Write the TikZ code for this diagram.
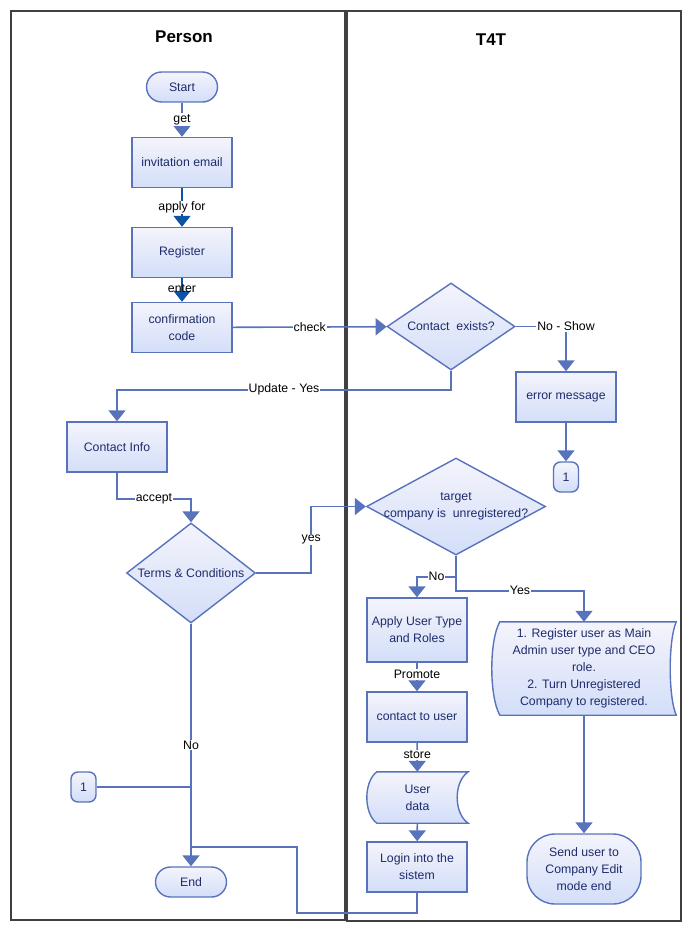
\documentclass[tikz,border=0pt]{standalone}
\usepackage{fontspec}
\setmainfont{Liberation Sans}
\usetikzlibrary{shapes.geometric,arrows.meta,calc,backgrounds}
\definecolor{lineblue}{HTML}{5873BC}
\definecolor{darkarrow}{HTML}{0B53A4}
\definecolor{topc}{HTML}{F4F4FB}
\definecolor{botc}{HTML}{D3DEF9}
\definecolor{txt}{HTML}{1E2C6C}
\definecolor{lanegray}{HTML}{404040}
\begin{document}
\begin{tikzpicture}[x=1pt,y=-1pt,
  box/.style={draw=lineblue, line width=1.4pt, top color=topc, bottom color=botc,
    minimum width=100pt, minimum height=50pt, inner sep=2pt, text=txt,
    font=\fontsize{12.3}{17}\selectfont, align=center},
  term/.style={box, rounded corners=15pt, minimum width=71pt, minimum height=30pt},
  conn/.style={box, rounded corners=7pt, minimum width=25pt, minimum height=30pt, inner sep=0pt},
  dia/.style={diamond, draw=lineblue, line width=1.4pt, top color=topc, bottom color=botc, inner sep=0pt},
  dtext/.style={text=txt, font=\fontsize{12.3}{17}\selectfont, align=center, inner sep=0pt},
  sdata/.style={draw=lineblue, line width=1.4pt, top color=topc, bottom color=botc},
  plain/.style={text=txt, font=\fontsize{12.3}{17}\selectfont, align=center, inner sep=0pt},
  flow/.style={draw=lineblue, line width=1.6pt, -{Triangle[width=17pt,length=11pt]}},
  flowdark/.style={draw=darkarrow, line width=1.6pt, -{Triangle[width=17pt,length=11pt]}},
  conline/.style={draw=lineblue, line width=1.6pt},
  lbl/.style={fill=white, inner sep=1pt, font=\fontsize{12.3}{14}\selectfont, text=black},
  lblclear/.style={inner sep=1pt, font=\fontsize{12.3}{14}\selectfont, text=black},
  lanebox/.style={draw=lanegray, line width=2pt},
  title/.style={font=\bfseries\fontsize{17}{20}\selectfont, text=black},
]
\useasboundingbox (0,0) rectangle (692,933);

% lanes
\draw[lanebox] (11,11) rectangle (345,920);
\draw[lanebox] (347,11) rectangle (681,921);
\node[title] (tperson) at (184,37) {Person};
\node[title] (tt4t) at (491,40) {T4T};

% left lane nodes
\node[term] (start) at (182,87) {Start};
\node[box] (inv) at (182,162.5) {invitation email};
\node[box] (reg) at (182,252.5) {Register};
\node[box] (conf) at (182,327.5) {confirmation\\code};
\node[box] (ci) at (117,447) {Contact Info};
\node[dia, minimum width=129pt, minimum height=100pt] (tc) at (191,573) {};
\node[dtext] (tctext) at (tc) {Terms \& Conditions};
\node[conn] (c1l) at (83.5,787) {1};
\node[term] (end) at (191,882) {End};

% right lane nodes
\node[dia, minimum width=128pt, minimum height=87pt] (ce) at (451,326.5) {};
\node[dtext] (cetext) at (ce) {Contact\ \ exists?};
\node[box] (err) at (566,397) {error message};
\node[conn] (c1r) at (566,477) {1};
\node[dia, minimum width=179pt, minimum height=97pt] (tu) at (456,506.5) {};
\node[dtext] (tutext) at (tu) {target\\company is\ \ unregistered?};
\node[box, minimum height=64pt] (aut) at (417,630) {Apply User Type\\and Roles};
\node[box] (ctu) at (417,717) {contact to user};
\node[plain, minimum width=101pt, minimum height=51pt] (ud) at (417.5,797.5) {User\\data};
\node[box] (login) at (417,867) {Login into the\\sistem};
\node[plain, minimum width=184pt, minimum height=93pt] (rg) at (584,668.5)
  {1. Register user as Main\\Admin user type and CEO\\role.\\2. Turn Unregistered\\Company to registered.};
\node[term, minimum width=114pt, minimum height=70pt, rounded corners=28pt] (send) at (584,869)
  {Send user to\\Company Edit\\mode end};

\begin{scope}[on background layer]
\path[sdata] ($(ud.north west)+(10,0)$)
  .. controls ($(ud.north west)+(-3.3,10)$) and ($(ud.south west)+(-3.3,-10)$) .. ($(ud.south west)+(10,0)$)
  -- (ud.south east)
  .. controls ($(ud.south east)+(-14.7,-10)$) and ($(ud.north east)+(-14.7,10)$) .. (ud.north east)
  -- cycle;
\path[sdata] ($(rg.north west)+(8,0)$)
  .. controls ($(rg.north west)+(-2.7,19)$) and ($(rg.south west)+(-2.7,-19)$) .. ($(rg.south west)+(8,0)$)
  -- (rg.south east)
  .. controls ($(rg.south east)+(-8,-19)$) and ($(rg.north east)+(-8,19)$) .. (rg.north east)
  -- cycle;
\end{scope}

% connectors
\draw[flow] (start) -- node[lbl]{get} (inv);
\draw[flowdark] (inv) -- node[lbl]{apply for} (reg);
\draw[flowdark] (reg) -- node[lblclear, pos=0.45]{enter} (conf);
\draw[flow] (conf) -- node[lbl]{check} (ce);
\draw[flow] (ce.east) -| node[lbl, pos=0.5]{No - Show} (err.north);
\draw[flow] (err) -- (c1r);
\draw[flow] (ce.south) -- ++(0,19) -| node[lbl, pos=0.25]{Update - Yes} (ci.north);
\draw[flow] (ci.south) -- ++(0,26) -| node[lbl, pos=0.25]{accept} (tc.north);
\draw[flow] (tc.east) -- ++(55,0) |- node[lbl, pos=0.25]{yes} (tu.west);
\draw[flow] (tu.south) -- ++(0,35) -| node[lbl, pos=0.25]{Yes} (rg.north);
\draw[flow] (tu.south) -- ++(0,21) -| node[lbl, pos=0.25]{No} (aut.north);
\draw[flow] (aut) -- node[lbl, pos=0.42]{Promote} (ctu);
\draw[flow] (ctu) -- node[lbl, pos=0.42]{store} (ud);
\draw[flow] (ud) -- (login);
\draw[flow] (rg.south) -- (send.north);
\draw[flow] (tc.south) -- node[lbl]{No} (end.north);
\draw[conline] (c1l.east) -- (c1l.east -| end.north);
\coordinate (loopc) at (297,847);
\draw[conline] (login.south) -- ++(0,20) -| (loopc) -- (loopc -| end.north);
\end{tikzpicture}
\end{document}
